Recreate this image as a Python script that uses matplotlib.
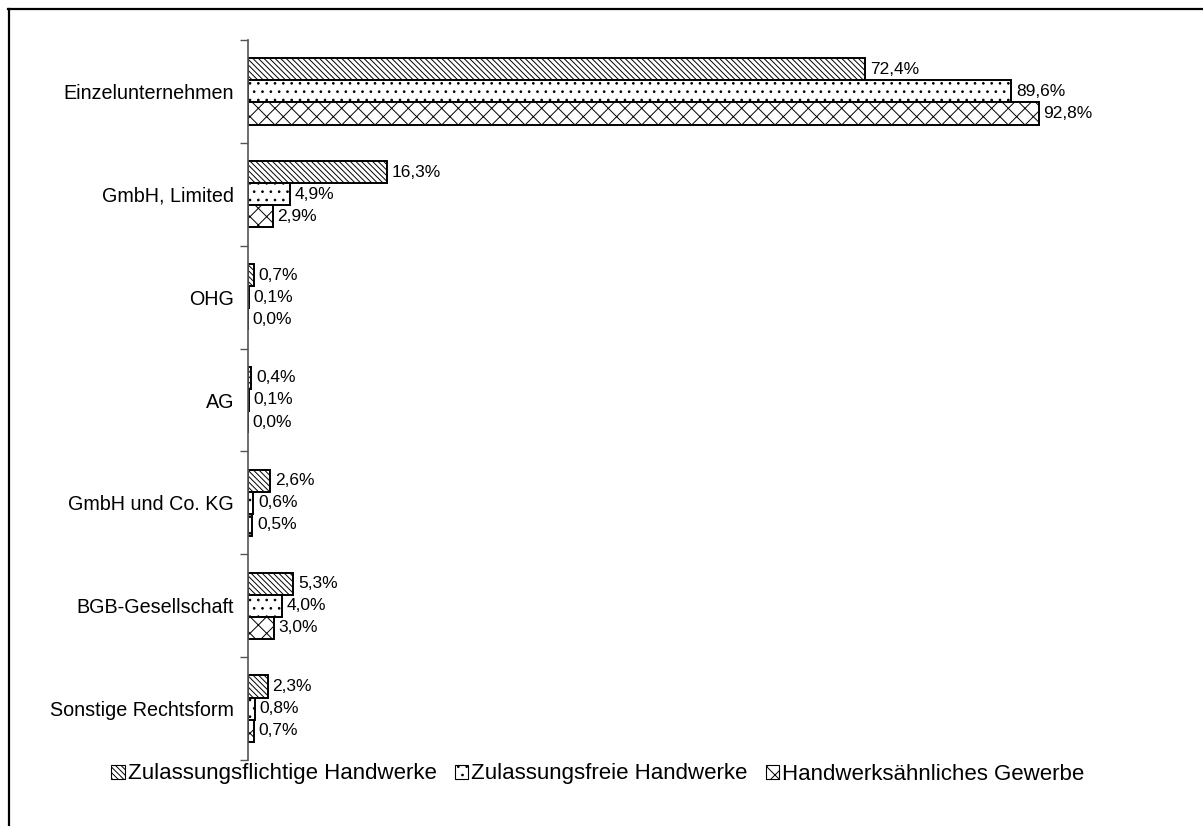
import numpy as np
import matplotlib
matplotlib.use('Agg')
import matplotlib.pyplot as plt
from matplotlib.lines import Line2D
from matplotlib.patches import Patch

plt.rcParams['font.family'] = ['Liberation Sans', 'DejaVu Sans']
plt.rcParams['hatch.linewidth'] = 0.7

categories = ['Einzelunternehmen', 'GmbH, Limited', 'OHG', 'AG',
              'GmbH und Co. KG', 'BGB-Gesellschaft', 'Sonstige Rechtsform']
series_names = ['Zulassungsflichtige Handwerke', 'Zulassungsfreie Handwerke',
                'Handwerksähnliches Gewerbe']
pflichtig = [72.4, 16.3, 0.7, 0.4, 2.6, 5.3, 2.3]
frei = [89.6, 4.9, 0.1, 0.1, 0.6, 4.0, 0.8]
aehnlich = [92.8, 2.9, 0.0, 0.0, 0.5, 3.0, 0.7]

series = [pflichtig, frei, aehnlich]
hatches = ['\\\\\\\\\\\\', '..', 'xx']
hatch_colors = ['#333333', '#888888', '#444444']
has_hc = hasattr(Patch, 'set_hatchcolor')

fig = plt.figure(figsize=(12.03, 8.26), dpi=100)
ax = fig.add_axes([248 / 1203, 1 - 760 / 826, (1100 - 248) / 1203, 720 / 826])

y = np.arange(len(categories))
h = 0.215
for i, (vals, hatch) in enumerate(zip(series, hatches)):
    pos = y + (i - 1) * h
    kw = {'hatchcolor': hatch_colors[i]} if has_hc else {}
    bars = ax.barh(pos, vals, height=h, color='white', edgecolor='black',
                   linewidth=1.4, hatch=hatch, **kw)
    for b, v in zip(bars, vals):
        ax.annotate(f'{v:.1f}%'.replace('.', ','),
                    (b.get_width(), b.get_y() + b.get_height() / 2),
                    xytext=(3.5, 0), textcoords='offset points',
                    va='center', ha='left', fontsize=12.5)

ax.set_ylim(len(categories) - 0.5, -0.5)
ax.set_xlim(0, 100)
ax.set_yticks(y)
ax.set_yticklabels(categories, fontsize=14.2)
ax.set_yticks(np.arange(len(categories) + 1) - 0.5, minor=True)
ax.tick_params(axis='y', which='major', length=0, pad=10)
ax.tick_params(axis='y', which='minor', length=6, color='#555555', width=1)
ax.set_xticks([])
for s in ['top', 'right', 'bottom']:
    ax.spines[s].set_visible(False)
ax.spines['left'].set_color('#555555')
ax.spines['left'].set_linewidth(1.2)

handles = []
for i, hh in enumerate(hatches):
    kw = {'hatchcolor': hatch_colors[i]} if has_hc else {}
    handles.append(Patch(facecolor='white', edgecolor='black', hatch=hh,
                         linewidth=0.8, **kw))
fig.legend(handles, series_names, loc='center', bbox_to_anchor=(0.497, 1 - 774 / 826),
           ncol=3, frameon=False, fontsize=16, handlelength=0.6, handleheight=0.6,
           handletextpad=0.15, columnspacing=0.8)

# outer frame (only top and left visible)
fig.add_artist(Line2D([8 / 1203, 1], [1 - 8.5 / 826, 1 - 8.5 / 826],
                      transform=fig.transFigure, color='black', linewidth=1.6))
fig.add_artist(Line2D([8.5 / 1203, 8.5 / 1203], [0, 1 - 8.5 / 826],
                      transform=fig.transFigure, color='black', linewidth=1.6))

fig.savefig('out.png', dpi=100)
